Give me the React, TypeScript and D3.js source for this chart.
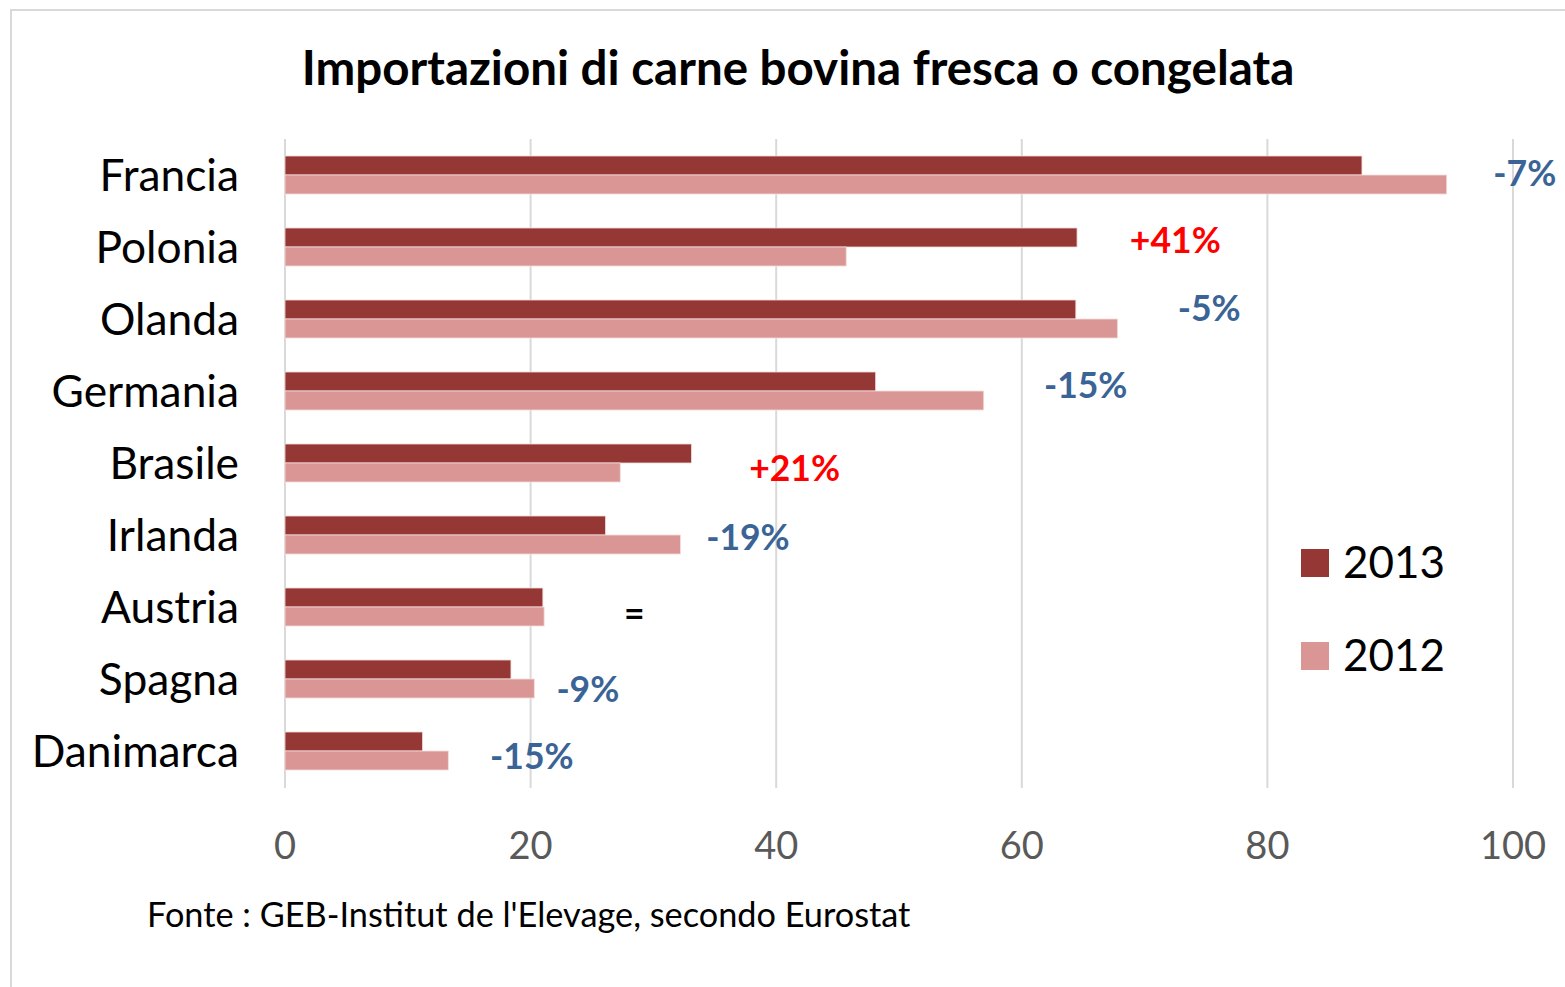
import * as d3 from 'd3';

// values (thousand tonnes, approx.)
const paesi = ['Francia', 'Polonia', 'Olanda', 'Germania', 'Brasile', 'Irlanda', 'Austria', 'Spagna', 'Danimarca'];
const anni = ['2013', '2012'];
const val2013 = [87.7, 64.5, 64.4, 48.1, 33.1, 26.1, 21.0, 18.4, 11.2];
const val2012 = [94.6, 45.7, 67.8, 56.9, 27.3, 32.2, 21.1, 20.3, 13.3];
const xTicks = [0, 20, 40, 60, 80, 100];

// change labels, their anchor on the value axis and a small vertical nudge
const variazioni = ['-7%', '+41%', '-5%', '-15%', '+21%', '-19%', '=', '-9%', '-15%'];
const variazioniX = [98.4, 68.8, 72.7, 61.8, 37.8, 34.3, 27.6, 22.1, 16.7];
const variazioniDy = [-3, -8, -12, -7, 5, 1, 6, 10, 5];

const COL = { '2013': '#953735', '2012': '#D99694' };
const FONT = 'Lato, "Noto Sans", sans-serif';

const W = 1565;
const H = 987;

export default function App() {
  const x = d3.scaleLinear().domain([0, 100]).range([285, 1513]);
  const y = d3.scaleBand<string>().domain(paesi).range([139, 787]).paddingInner(0.472).paddingOuter(0.236);
  const ySub = d3.scaleBand<string>().domain(anni).range([0, y.bandwidth()]);
  const serie: Record<string, number[]> = { '2013': val2013, '2012': val2012 };

  const labelColor = (s: string) => (s.startsWith('+') ? '#FF0000' : s === '=' ? '#000' : '#3B6496');

  return (
    <svg width={W} height={H} style={{ display: 'block', position: 'absolute', left: 0, top: 0 }}>
      <rect x={0} y={0} width={W} height={H} fill="#fff" />
      <rect x={11} y={10} width={W + 20} height={H + 20} fill="none" stroke="#d9d9d9" strokeWidth={2} />

      <text x={798} y={66} textAnchor="middle" dominantBaseline="central"
        fontFamily={FONT} fontWeight={700} fontSize={47.5} fill="#000">
        Importazioni di carne bovina fresca o congelata
      </text>

      {xTicks.map(t => (
        <g key={t}>
          <line x1={x(t)} x2={x(t)} y1={139} y2={788} stroke="#d9d9d9" strokeWidth={2} />
          <text x={x(t)} y={844} textAnchor="middle" dominantBaseline="central"
            fontFamily={FONT} fontSize={38} fill="#595959">{t}</text>
        </g>
      ))}

      {paesi.map((p, i) => (
        <g key={p} transform={`translate(0,${y(p)})`}>
          {anni.map(a => (
            <rect key={a} x={x(0)} y={ySub(a)} width={x(serie[a][i]) - x(0)} height={ySub.bandwidth()}
              fill={COL[a]} stroke="#f2dcdb" strokeWidth={0.8} />
          ))}
          <text x={239} y={y.bandwidth() / 2 - 2} textAnchor="end" dominantBaseline="central"
            fontFamily={FONT} fontSize={44.3} fill="#000">{p}</text>
          <text x={x(variazioniX[i])} y={y.bandwidth() / 2 + variazioniDy[i]} dominantBaseline="central"
            fontFamily={FONT} fontWeight={700} fontSize={35.5} fill={labelColor(variazioni[i])}>
            {variazioni[i]}
          </text>
        </g>
      ))}

      {anni.map((a, i) => (
        <g key={a} transform={`translate(1301,${549 + i * 93})`}>
          <rect x={0} y={0} width={28} height={28} fill={COL[a]} />
          <text x={42} y={12} dominantBaseline="central" fontFamily={FONT} fontSize={44} fill="#000">{a}</text>
        </g>
      ))}

      <text x={147} y={913} dominantBaseline="central" fontFamily={FONT} fontSize={34.3} fill="#000">
        Fonte : GEB-Institut de l'Elevage, secondo Eurostat
      </text>
    </svg>
  );
}
